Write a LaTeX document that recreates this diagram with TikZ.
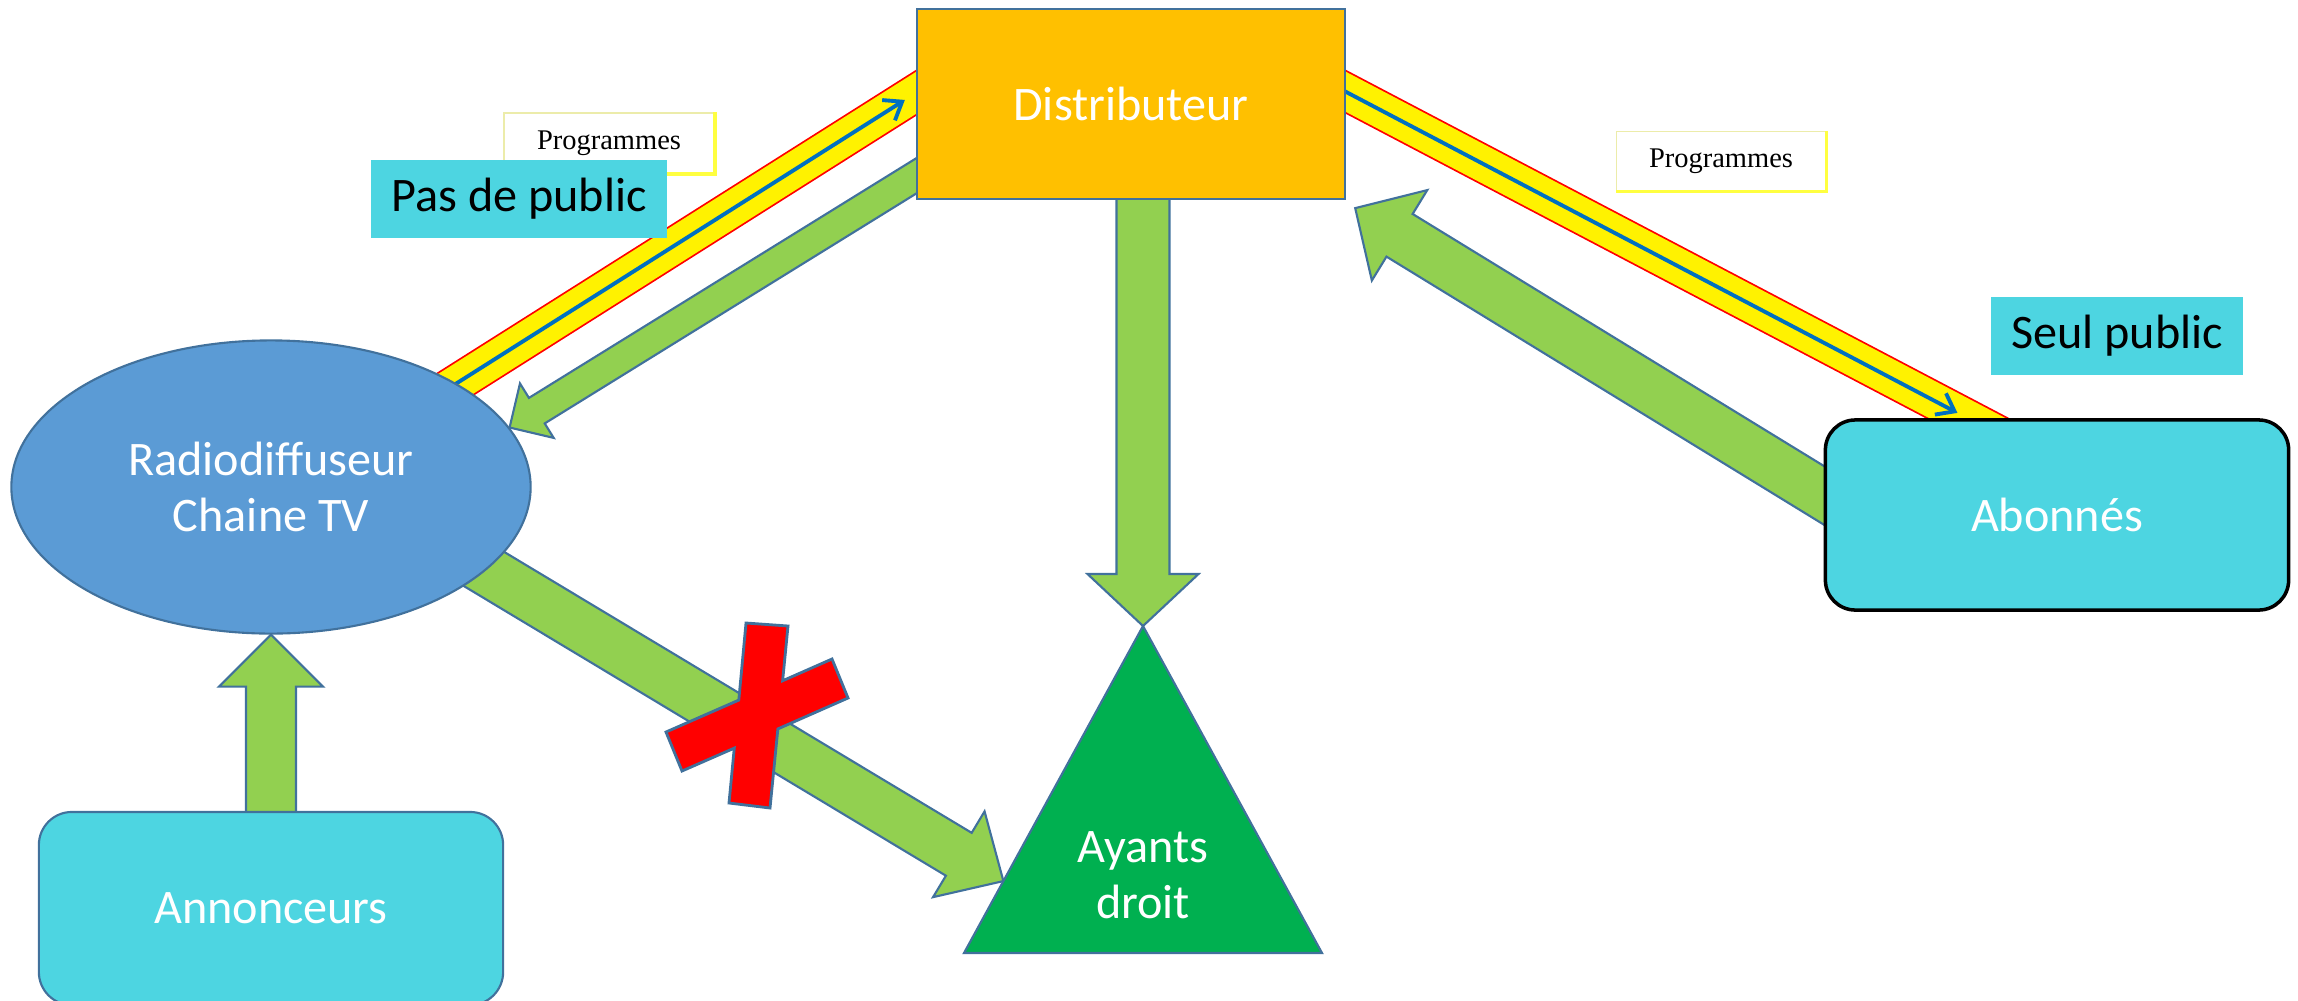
\documentclass[tikz,border=0pt]{standalone}
\usepackage{fontspec}
\setmainfont{Carlito}
\newfontfamily\progfont{Liberation Serif}
\usetikzlibrary{shapes,calc,backgrounds,arrows.meta}

\definecolor{distorange}{HTML}{FFC000}
\definecolor{edgeblue}{HTML}{41719C}
\definecolor{radioblue}{HTML}{5B9BD5}
\definecolor{flowgreen}{HTML}{92D050}
\definecolor{rightsgreen}{HTML}{00B050}
\definecolor{boxcyan}{RGB}{77,213,225}
\definecolor{progline}{RGB}{236,236,170}
\definecolor{progshade}{HTML}{FFFF40}
\definecolor{programblue}{HTML}{0070C0}

% block arrow: tail, tip, half shaft, half head, head length
\newcommand{\bigarrow}[5]{%
  \coordinate (hb) at ($(#2)!#5!(#1)$);
  \draw[greenflow] ($(#1)!#3!90:(#2)$) -- ($(hb)!#3!90:(#2)$) -- ($(hb)!#4!90:(#2)$) -- (#2)
    -- ($(hb)!#4!-90:(#2)$) -- ($(hb)!#3!-90:(#2)$) -- ($(#1)!#3!-90:(#2)$) -- cycle;
}

\begin{document}
\begin{tikzpicture}[x=0.01cm,y=-0.01cm,
  every node/.style={font=\fontsize{13.7}{15.8}\selectfont,align=center},
  box/.style={draw=edgeblue,line width=0.6pt,text=white,inner sep=0pt},
  tag/.style={fill=boxcyan,text=black,inner sep=0pt},
  prog/.style={draw=progline,line width=0.5pt,fill=white,inner sep=0pt,font=\progfont\fontsize{8.1}{9}\selectfont},
  greenflow/.style={fill=flowgreen,draw=edgeblue,line width=0.6pt,line join=miter},
  band/.style={draw=red,line width=0.5pt,double=yellow,double distance=0.355cm},
  programme/.style={draw=programblue,line width=1.1pt,-{Straight Barb[length=0.16cm,width=0.24cm]}},
  cross/.style={fill=red,draw=edgeblue,line width=0.8pt,line join=miter}]
\useasboundingbox (0,0) rectangle (2298,1000);

\node[box,fill=distorange,minimum width=4.28cm,minimum height=1.9cm] (dist) at (1131,104) {Distributeur};
\node[box,ellipse,fill=radioblue,minimum width=5.19cm,minimum height=2.93cm] (radio) at (271,487) {Radiodiffuseur\\Chaine TV};
\node[box,rounded corners=0.3cm,fill=boxcyan,draw=black,line width=1pt,minimum width=4.63cm,minimum height=1.9cm] (abon) at (2057,515) {Abonnés};
\node[box,rounded corners=0.33cm,fill=boxcyan,minimum width=4.64cm,minimum height=1.93cm] (annon) at (271,908.5) {Annonceurs};

\draw[fill=rightsgreen,draw=edgeblue,line width=0.6pt] (1143,626) coordinate (ayants-top)
  -- (1322,953) coordinate (ayants-right) -- (964,953) coordinate (ayants-left) -- cycle;
\node[text=white] (ayants) at (1143,875) {Ayants\\droit};

\node[prog,minimum width=2.1cm,minimum height=0.6cm] (prog1) at (609,143) {Programmes};
\draw[progshade,line width=1pt] (prog1.north east) -- (prog1.south east) -- (prog1.south west);
\node[prog,minimum width=2.09cm,minimum height=0.59cm] (prog2) at (1721,161) {Programmes};
\draw[progshade,line width=1pt] (prog2.north east) -- (prog2.south east) -- (prog2.south west);
\node[tag,minimum width=2.96cm,minimum height=0.78cm] (pdp) at (519,199) {Pas de public};
\node[tag,minimum width=2.52cm,minimum height=0.78cm] (seul) at (2117,336) {Seul public};

\begin{pgfonlayer}{background}
% programmes bands
\coordinate (pl) at ([yshift=0.11cm]dist.west);
\coordinate (pl-in) at ([shift={(212.3:6.3cm)}]pl);
\draw[band] (pl-in) -- ([shift={(32.3:0.5cm)}]pl);
\draw[programme] (pl-in) -- ([shift={(212.3:0.13cm)}]pl);
\coordinate (pr) at ([yshift=0.12cm]dist.east);
\draw[band] ([shift={(152.3:0.5cm)}]pr) -- ([shift={(-27.7:7.6cm)}]pr);
\draw[programme] ([shift={(152.3:0.3cm)}]pr) -- ([shift={(-27.7:6.9cm)}]pr);

% money / flows
\coordinate (d2r-tail) at ([shift={(31.75:5.3cm)}]radio.14);
\bigarrow{d2r-tail}{radio.14}{0.15cm}{0.32cm}{0.32cm}
\coordinate (a2d-tip) at ([shift={(0.09cm,-0.08cm)}]dist.south east);
\coordinate (a2d-tail) at ([shift={(-31.5:6cm)}]a2d-tip);
\bigarrow{a2d-tail}{a2d-tip}{0.25cm}{0.53cm}{0.52cm}
\coordinate (d2a-tail) at ([xshift=0.12cm]dist.center);
\bigarrow{d2a-tail}{ayants-top}{0.265cm}{0.555cm}{0.52cm}
\coordinate (r2a-tip) at ($(ayants-top)!0.78!(ayants-left)$);
\coordinate (r2a-tail) at ([shift={(149:6.6cm)}]r2a-tip);
\bigarrow{r2a-tail}{r2a-tip}{0.25cm}{0.5cm}{0.52cm}
\bigarrow{annon.center}{radio.south}{0.25cm}{0.52cm}{0.52cm}
\end{pgfonlayer}

% red cross
\coordinate (xa1) at (746,623);
\coordinate (xa2) at (788,626);
\coordinate (xa3) at (770,808);
\coordinate (xa4) at (729,803);
\coordinate (xb1) at (666,732);
\coordinate (xb2) at (832,659);
\coordinate (xb3) at (848,698);
\coordinate (xb4) at (682,771);
\draw[cross] (xa1) -- (xa2) -- (intersection of xa2--xa3 and xb1--xb2) -- (xb2) -- (xb3)
  -- (intersection of xa2--xa3 and xb4--xb3) -- (xa3) -- (xa4)
  -- (intersection of xa1--xa4 and xb4--xb3) -- (xb4) -- (xb1)
  -- (intersection of xa1--xa4 and xb1--xb2) -- cycle;
\end{tikzpicture}
\end{document}
